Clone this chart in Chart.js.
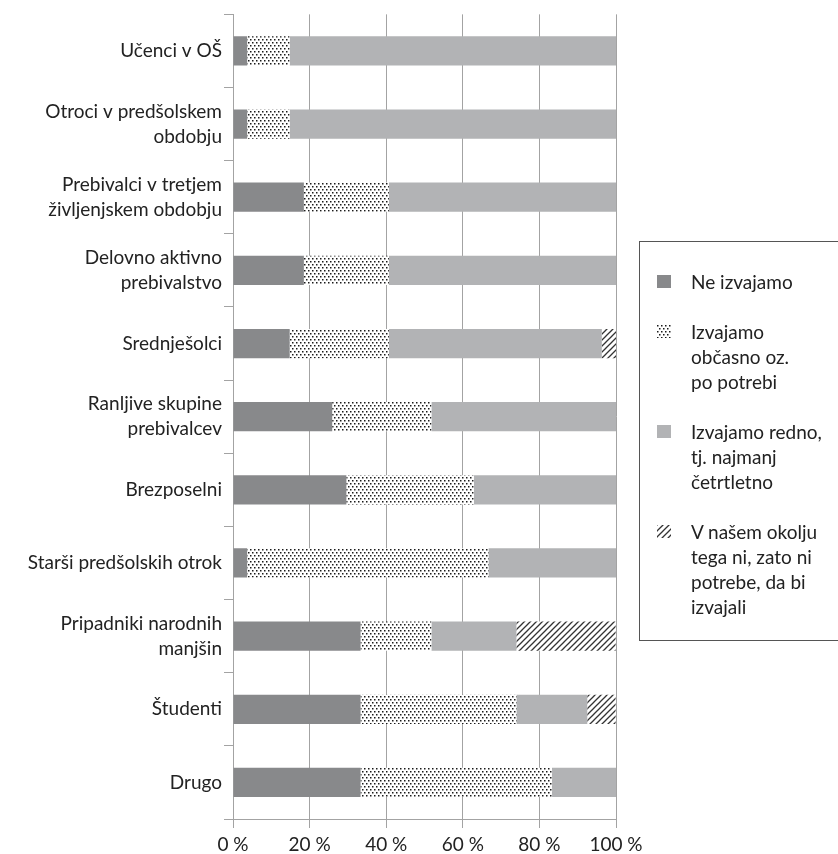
<!DOCTYPE html>
<html>
<head>
<meta charset="utf-8">
<script src="https://cdn.jsdelivr.net/npm/chart.js@4"></script>
<style>
  body { margin: 0; background: #fff; overflow: hidden; }
  #wrap { position: relative; width: 838px; height: 854px; }
  #legend {
    position: absolute; left: 639px; top: 241px; width: 220px; height: 400px;
    border: 1px solid #555; box-sizing: border-box; padding-top: 27px;
    font-family: Lato, sans-serif; font-size: 19px; color: #222;
  }
  .item { position: relative; padding-left: 51px; line-height: 25px; margin-bottom: 25px; }
  .item canvas { position: absolute; left: 17px; top: 6px; }
</style>
</head>
<body>
<div id="wrap">
  <canvas id="chart" width="838" height="854"></canvas>
  <div id="legend"></div>
</div>
<script>
// Categories (top to bottom)
const categories = [
    ['Učenci v OŠ'],
    ['Otroci v predšolskem', 'obdobju'],
    ['Prebivalci v tretjem', 'življenjskem obdobju'],
    ['Delovno aktivno', 'prebivalstvo'],
    ['Srednješolci'],
    ['Ranljive skupine', 'prebivalcev'],
    ['Brezposelni'],
    ['Starši predšolskih otrok'],
    ['Pripadniki narodnih', 'manjšin'],
    ['Študenti'],
    ['Drugo']
];

// Series values in %
const neIzvajamo = [3.7, 3.7, 18.5, 18.5, 14.8, 25.9, 29.6, 3.7, 33.3, 33.3, 33.3];
const obcasno    = [11.1, 11.1, 22.2, 22.2, 25.9, 25.9, 33.3, 63.0, 18.5, 40.7, 50.0];
const redno      = [85.2, 85.2, 59.3, 59.3, 55.6, 48.2, 37.1, 33.3, 22.2, 18.5, 16.7];
const niPotrebe  = [0, 0, 0, 0, 3.7, 0, 0, 0, 25.9, 7.4, 0];

const seriesNames = [
    'Ne izvajamo',
    'Izvajamo občasno oz. po potrebi',
    'Izvajamo redno, tj. najmanj četrtletno',
    'V našem okolju tega ni, zato ni potrebe, da bi izvajali'
];
const legendLines = [
    ['Ne izvajamo'],
    ['Izvajamo', 'občasno oz.', 'po potrebi'],
    ['Izvajamo redno,', 'tj. najmanj', 'četrtletno'],
    ['V našem okolju', 'tega ni, zato ni', 'potrebe, da bi', 'izvajali']
];

const xTicks = [0, 20, 40, 60, 80, 100];

const FONT = 'Lato, sans-serif';
const TEXT = '#222';
const GRID = '#a3a3a3';

// Fill patterns
function dotPattern() {
    const t = document.createElement('canvas');
    t.width = 4; t.height = 6;
    const g = t.getContext('2d');
    g.fillStyle = '#fff';
    g.fillRect(0, 0, 4, 6);
    g.fillStyle = '#1a1a1a';
    g.fillRect(0, 0, 1.5, 1.5);
    g.fillRect(2, 3, 1.5, 1.5);
    return g.createPattern(t, 'repeat');
}

function hatchPattern() {
    const s = 6;
    const t = document.createElement('canvas');
    t.width = s; t.height = s;
    const g = t.getContext('2d');
    g.fillStyle = '#fff';
    g.fillRect(0, 0, s, s);
    g.strokeStyle = '#333';
    g.lineWidth = 1.3;
    g.beginPath();
    g.moveTo(0, s); g.lineTo(s, 0);
    g.moveTo(-s / 2, s / 2); g.lineTo(s / 2, -s / 2);
    g.moveTo(s / 2, s + s / 2); g.lineTo(s + s / 2, s / 2);
    g.stroke();
    return g.createPattern(t, 'repeat');
}

const fills = ['#88898b', dotPattern(), '#b2b3b5', hatchPattern()];
const values = [neIzvajamo, obcasno, redno, niPotrebe];

const chart = new Chart(document.getElementById('chart').getContext('2d'), {
    type: 'bar',
    data: {
        labels: categories,
        datasets: seriesNames.map((name, i) => ({
            label: name,
            data: values[i],
            backgroundColor: fills[i],
            borderWidth: 0,
            barPercentage: 0.4,
            categoryPercentage: 1
        }))
    },
    options: {
        indexAxis: 'y',
        responsive: false,
        devicePixelRatio: 1,
        animation: false,
        layout: { padding: { top: 10, right: 222, left: 0, bottom: 0 } },
        plugins: {
            legend: { display: false },
            tooltip: { enabled: false }
        },
        scales: {
            x: {
                stacked: true,
                min: 0,
                max: 100,
                afterBuildTicks: scale => { scale.ticks = xTicks.map(v => ({ value: v })); },
                ticks: {
                    callback: v => v + ' %',
                    color: TEXT,
                    font: { family: FONT, size: 19 },
                    padding: 5,
                    maxRotation: 0
                },
                grid: { color: GRID, lineWidth: 1, tickLength: 9 },
                border: { color: GRID, width: 1 },
                afterFit: scale => { scale.height = 35; }
            },
            y: {
                stacked: true,
                ticks: {
                    color: TEXT,
                    font: { family: FONT, size: 19, lineHeight: 1.3 },
                    padding: 2
                },
                grid: { drawOnChartArea: false, color: GRID, tickLength: 9, offset: true },
                border: { color: GRID, width: 1 },
                afterFit: scale => { scale.width = 233; }
            }
        }
    }
});

// HTML legend with the same fills
const legend = document.getElementById('legend');
legendLines.forEach((lines, i) => {
    const item = document.createElement('div');
    item.className = 'item';
    const sw = document.createElement('canvas');
    sw.width = 14; sw.height = 13;
    const g = sw.getContext('2d');
    g.fillStyle = fills[i];
    g.fillRect(0, 0, 14, 13);
    item.appendChild(sw);
    item.insertAdjacentHTML('beforeend', lines.join('<br>'));
    legend.appendChild(item);
});
</script>
</body>
</html>
